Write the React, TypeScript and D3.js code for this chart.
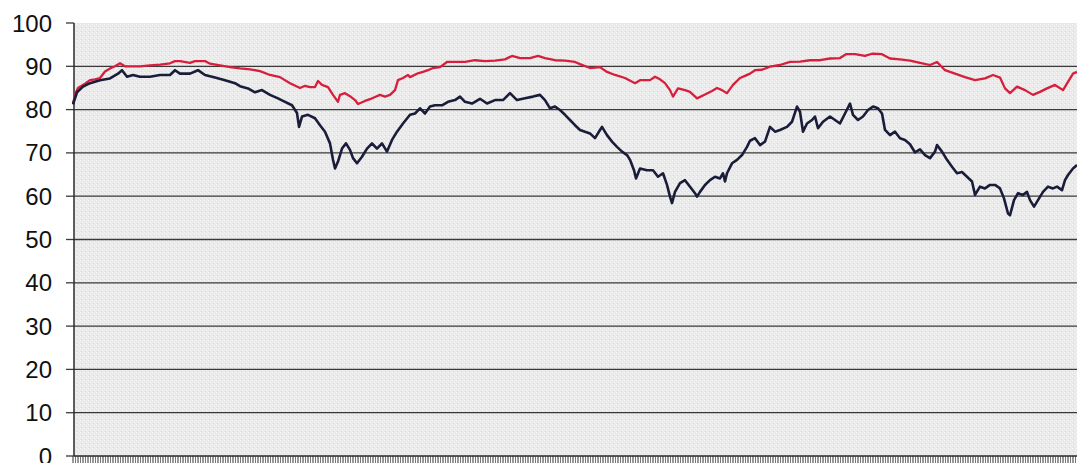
import React from "react";
import * as d3 from "d3";

// y-axis tick labels
const yTicks = [0, 10, 20, 30, 40, 50, 60, 70, 80, 90, 100];

// red series: [day index, value]
const redSeries: [number, number][] = [
  [0, 81.5], [3, 84], [5, 85], [7, 85.3], [12, 86], [17, 86.8], [22, 87], [27, 87.3], [32, 88.8], [37, 89.5],
  [42, 90], [47, 90.7], [52, 90], [60, 90], [67, 90], [77, 90.2], [87, 90.4], [97, 90.7], [102, 91.2], [107, 91.2],
  [117, 90.8], [122, 91.2], [132, 91.2], [137, 90.6], [147, 90.2], [157, 89.8], [167, 89.5], [177, 89.3], [187, 88.9], [197, 88],
  [207, 87.5], [217, 86.1], [227, 85], [232, 85.5], [237, 85.2], [242, 85.2], [245, 86.6], [249, 85.7], [255, 85.2], [260, 83.4],
  [265, 81.8], [267, 83.4], [272, 83.8], [277, 83.1], [282, 82.2], [285, 81.3], [292, 82], [297, 82.4], [302, 82.9], [307, 83.4],
  [312, 83], [317, 83.4], [322, 84.5], [325, 86.8], [330, 87.3], [335, 88], [337, 87.5], [344, 88.3], [350, 88.7], [355, 89.1],
  [360, 89.6], [367, 89.8], [374, 91], [382, 91], [392, 91], [402, 91.4], [412, 91.2], [422, 91.3], [432, 91.6], [439, 92.4],
  [447, 91.9], [457, 91.9], [465, 92.4], [472, 91.9], [482, 91.4], [492, 91.3], [502, 91], [507, 90.5], [517, 89.6], [527, 89.8],
  [534, 88.7], [542, 88], [552, 87.3], [562, 86.1], [567, 86.8], [577, 86.8], [582, 87.6], [587, 87], [592, 86.1], [597, 84.5],
  [600, 83], [605, 84.9], [612, 84.5], [617, 84.1], [624, 82.6], [632, 83.5], [639, 84.3], [644, 85], [649, 84.5], [654, 83.8],
  [660, 85.7], [667, 87.3], [672, 87.8], [677, 88.3], [682, 89.1], [689, 89.2], [697, 89.9], [707, 90.3], [717, 91], [727, 91.1],
  [737, 91.4], [747, 91.4], [757, 91.8], [767, 91.9], [773, 92.8], [782, 92.8], [792, 92.4], [799, 92.9], [809, 92.8], [817, 91.8],
  [827, 91.6], [837, 91.3], [847, 90.8], [857, 90.3], [864, 91], [872, 89.1], [882, 88.3], [892, 87.5], [902, 86.8], [912, 87.2],
  [920, 88], [927, 87.4], [932, 84.9], [937, 83.8], [944, 85.3], [952, 84.5], [960, 83.4], [967, 84.1], [974, 84.9], [982, 85.7],
  [990, 84.5], [995, 86.4], [1000, 88.3], [1004, 88.7],
];

// navy series: [day index, value]
const navySeries: [number, number][] = [
  [0, 81.2], [4, 84], [10, 85.3], [17, 86.1], [27, 86.8], [37, 87.2], [45, 88.3], [49, 89.1], [54, 87.6], [60, 88],
  [67, 87.6], [77, 87.6], [87, 88], [97, 88], [102, 89.1], [107, 88.3], [117, 88.3], [125, 89.1], [132, 88], [142, 87.4],
  [152, 86.8], [162, 86.1], [167, 85.4], [175, 84.9], [182, 84], [189, 84.5], [197, 83.4], [205, 82.6], [212, 81.8], [219, 81],
  [224, 79.2], [226, 76], [229, 78.4], [235, 78.8], [242, 78], [247, 76.4], [252, 74.9], [257, 72.2], [260, 68.4], [262, 66.4],
  [265, 68], [269, 71], [273, 72.2], [277, 70.7], [280, 68.8], [284, 67.6], [289, 69.1], [294, 71], [299, 72.2], [304, 71],
  [309, 72.2], [314, 70.3], [319, 73], [324, 74.9], [330, 76.8], [337, 78.8], [342, 79.1], [347, 80.3], [352, 79.1], [357, 80.7],
  [362, 81], [369, 81], [375, 81.8], [382, 82.2], [387, 83], [392, 81.8], [399, 81.4], [407, 82.5], [414, 81.4], [422, 82.2],
  [430, 82.2], [437, 83.8], [444, 82.2], [452, 82.6], [460, 83], [467, 83.4], [472, 82.2], [477, 80.3], [482, 80.7], [487, 79.9],
  [492, 78.8], [497, 77.6], [502, 76.4], [507, 75.3], [512, 74.9], [517, 74.5], [522, 73.4], [527, 75.3], [529, 76], [534, 74.1],
  [539, 72.6], [544, 71.4], [549, 70.3], [554, 69.5], [557, 68.4], [561, 66], [563, 64.1], [567, 66.4], [574, 66], [580, 66],
  [585, 64.5], [590, 65.3], [594, 62.6], [597, 59.9], [599, 58.4], [602, 61], [607, 63], [612, 63.7], [617, 62.2], [622, 60.7],
  [624, 59.9], [627, 61], [632, 62.6], [637, 63.7], [642, 64.5], [647, 64.1], [650, 65.3], [652, 63.4], [654, 65.3], [659, 67.6],
  [664, 68.4], [669, 69.5], [674, 71.4], [677, 72.8], [682, 73.4], [687, 71.8], [692, 72.6], [697, 76], [702, 74.9], [707, 75.3],
  [714, 76], [719, 77.2], [724, 80.7], [727, 79.5], [730, 74.9], [734, 76.8], [739, 77.6], [742, 78.4], [745, 75.7], [750, 77.2],
  [757, 78.4], [762, 77.6], [767, 76.8], [772, 79.1], [777, 81.4], [780, 78.8], [785, 77.6], [790, 78.4], [795, 79.9], [800, 80.7],
  [805, 80.3], [809, 79.1], [812, 75.3], [817, 74.1], [822, 74.9], [827, 73.4], [832, 73], [837, 72], [842, 70.1], [847, 70.8],
  [852, 69.5], [857, 68.8], [862, 70.3], [864, 71.8], [869, 70.3], [874, 68.4], [879, 66.8], [884, 65.3], [889, 65.6], [894, 64.5],
  [899, 63.4], [902, 60.3], [907, 62.2], [912, 61.8], [917, 62.6], [922, 62.6], [927, 61.8], [931, 59.5], [935, 56], [937, 55.6],
  [941, 59.1], [945, 60.7], [950, 60.3], [954, 61], [957, 59.1], [961, 57.6], [965, 59.1], [970, 61], [975, 62.2], [980, 61.8],
  [984, 62.2], [989, 61.4], [992, 63.7], [995, 64.9], [1000, 66.4], [1004, 67.2],
];

const W = 1077;
const H = 463;

export default function App() {
  const x = d3.scaleLinear().domain([0, 1004]).range([73, 1077]);
  const y = d3.scaleLinear().domain([0, 100]).range([456, 23]);
  const line = d3
    .line<[number, number]>()
    .x((d) => x(d[0]))
    .y((d) => y(d[1]));

  const bottomTicks = d3.range(0, 1005, 2.5);

  return (
    <svg
      width={W}
      height={H}
      style={{ position: "absolute", left: 0, top: 0, background: "#fff" }}
    >
      <defs>
        <pattern id="tex" width="4" height="4" patternUnits="userSpaceOnUse">
          <rect width="4" height="4" fill="#e9eae9" />
          <rect x="0" y="0" width="1" height="1" fill="#f8f8f8" />
          <rect x="2" y="2" width="1" height="1" fill="#f6f6f6" />
          <rect x="1" y="3" width="1" height="1" fill="#dcdddc" />
        </pattern>
      </defs>
      <rect x={74} y={y(100)} width={W - 74} height={y(0) - y(100)} fill="url(#tex)" />
      {yTicks.map((t) => (
        <g key={t}>
          {t > 0 && t < 100 && (
            <line x1={74} x2={W} y1={y(t)} y2={y(t)} stroke="#3a3a3a" strokeWidth={1.3} />
          )}
          <line x1={66} x2={74} y1={y(t)} y2={y(t)} stroke="#3a3a3a" strokeWidth={1.3} />
          <text
            x={52}
            y={y(t)}
            textAnchor="end"
            dominantBaseline="central"
            fontFamily="'Liberation Sans', Arial, sans-serif"
            fontSize={24}
            fill="#111"
          >
            {t}
          </text>
        </g>
      ))}
      {bottomTicks.map((t, i) => (
        <line
          key={i}
          x1={x(t)}
          x2={x(t)}
          y1={456}
          y2={464}
          stroke={i % 2 === 0 ? "#333" : "#777"}
          strokeWidth={1}
        />
      ))}
      <line x1={74} x2={74} y1={y(100)} y2={y(0)} stroke="#2a2a2a" strokeWidth={1.5} />
      <line x1={74} x2={W} y1={y(0)} y2={y(0)} stroke="#2a2a2a" strokeWidth={1.5} />
      <path d={line(redSeries) || ""} fill="none" stroke="#d61f3d" strokeWidth={2.3} strokeLinejoin="round" />
      <path d={line(navySeries) || ""} fill="none" stroke="#1a1d3a" strokeWidth={2.6} strokeLinejoin="round" />
    </svg>
  );
}
